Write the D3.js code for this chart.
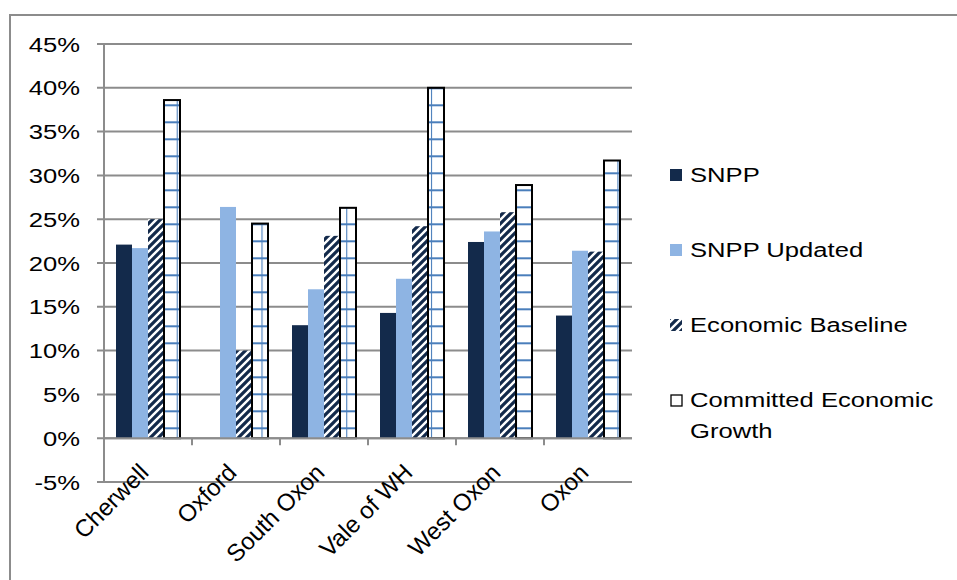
<!DOCTYPE html>
<html>
<head>
<meta charset="utf-8">
<script src="https://cdnjs.cloudflare.com/ajax/libs/d3/7.8.5/d3.min.js"></script>
<style>
  body { margin: 0; background: #fff; }
  svg { display: block; }
  text { font-family: "Liberation Sans", Arial, sans-serif; fill: #000; }
</style>
</head>
<body>
<svg id="chart" width="957" height="580"></svg>
<script>
const categories = ['Cherwell', 'Oxford', 'South Oxon', 'Vale of WH', 'West Oxon', 'Oxon'];
const seriesNames = ['SNPP', 'SNPP Updated', 'Economic Baseline', 'Committed Economic Growth'];
const snpp = [0.221, 0, 0.129, 0.143, 0.224, 0.140];
const snppUpdated = [0.217, 0.264, 0.170, 0.182, 0.236, 0.214];
const econBaseline = [0.250, 0.100, 0.231, 0.242, 0.258, 0.213];
const committed = [0.386, 0.245, 0.263, 0.400, 0.289, 0.317];
const yTicks = [-0.05, 0, 0.05, 0.1, 0.15, 0.2, 0.25, 0.3, 0.35, 0.4, 0.45];

const values = [snpp, snppUpdated, econBaseline, committed];
const stretch = 'scale(1.22,1)';

const svg = d3.select('#chart');
const defs = svg.append('defs');

// dark bars with white "/" stripes
const hatch = defs.append('pattern')
  .attr('id', 'hatch')
  .attr('patternUnits', 'userSpaceOnUse')
  .attr('width', 8).attr('height', 8);
hatch.append('rect').attr('width', 8).attr('height', 8).attr('fill', '#132a4b');
hatch.append('path')
  .attr('d', 'M-2,10 L10,-2 M-6,6 L6,-6 M2,14 L14,2')
  .attr('stroke', '#fff').attr('stroke-width', 2.4);

// white bars with a blue grid
const grid = defs.append('pattern')
  .attr('id', 'grid')
  .attr('patternUnits', 'userSpaceOnUse')
  .attr('x', 176.7).attr('y', 122.3)
  .attr('width', 16.95).attr('height', 17);
grid.append('rect').attr('width', 16.95).attr('height', 17).attr('fill', '#fff');
grid.append('path')
  .attr('d', 'M0,0 H16.95 M0,0 V17 M0,17 H16.95')
  .attr('stroke', '#4a7ebb').attr('stroke-width', 2.2);

const fills = ['#132a4b', '#8eb4e3', 'url(#hatch)', 'url(#grid)'];

// chart frame
svg.append('path')
  .attr('d', 'M10,580 V15 H957')
  .attr('fill', 'none').attr('stroke', '#8c8c8c').attr('stroke-width', 2);

const x0 = d3.scaleBand().domain(categories).range([104, 632]);
const x1 = d3.scaleBand().domain(d3.range(4)).range([0, x0.bandwidth()]).paddingOuter(0.75);
const y = d3.scaleLinear().domain([-0.05, 0.45]).range([482, 44]);
const pct = d => d3.format('.0%')(d).replace('\u2212', '-');

// gridlines
svg.append('g')
  .selectAll('line')
  .data(yTicks)
  .join('line')
  .attr('x1', 97).attr('x2', 632)
  .attr('y1', d => y(d)).attr('y2', d => y(d))
  .attr('stroke', '#8c8c8c').attr('stroke-width', 2);

// y axis
svg.append('line')
  .attr('x1', 104).attr('x2', 104)
  .attr('y1', y(0.45)).attr('y2', y(-0.05))
  .attr('stroke', '#8c8c8c').attr('stroke-width', 2);

svg.append('g')
  .selectAll('text')
  .data(yTicks)
  .join('text')
  .attr('transform', d => `translate(80,${y(d) + 7.5}) ${stretch}`)
  .attr('text-anchor', 'end')
  .style('font-size', '21px')
  .text(pct);

// bars
categories.forEach((c, i) => {
  const g = svg.append('g');
  values.forEach((vals, s) => {
    const v = vals[i];
    if (!v) return;
    g.append('rect')
      .attr('x', x0(c) + x1(s))
      .attr('y', y(v))
      .attr('width', x1.bandwidth())
      .attr('height', y(0) - y(v))
      .attr('fill', fills[s])
      .attr('stroke', s === 3 ? '#000' : 'none')
      .attr('stroke-width', 2);
  });
});

// category axis at 0%
svg.append('line')
  .attr('x1', 104).attr('x2', 632)
  .attr('y1', y(0)).attr('y2', y(0))
  .attr('stroke', '#8c8c8c').attr('stroke-width', 2);
svg.append('g')
  .selectAll('line')
  .data(categories.slice(1))
  .join('line')
  .attr('x1', d => x0(d)).attr('x2', d => x0(d))
  .attr('y1', y(0)).attr('y2', y(0) + 7)
  .attr('stroke', '#8c8c8c').attr('stroke-width', 2);

svg.append('g')
  .selectAll('text')
  .data(categories)
  .join('text')
  .attr('transform', d => `translate(${x0(d) + x0.bandwidth() / 2 + 2},474) rotate(-45)`)
  .attr('text-anchor', 'end')
  .style('font-size', '24px')
  .text(d => d);

// legend
const legendY = [182, 257, 332, 407];
const legend = svg.append('g');
seriesNames.forEach((name, s) => {
  legend.append('rect')
    .attr('x', s === 3 ? 671 : 670)
    .attr('y', legendY[s] - (s === 3 ? 12 : 13))
    .attr('width', s === 3 ? 11 : 12)
    .attr('height', s === 3 ? 11 : 12)
    .attr('fill', s === 3 ? '#fff' : fills[s])
    .attr('stroke', s === 3 ? '#000' : 'none')
    .attr('stroke-width', 1.3);
  if (s === 3) {
    legend.append('text').attr('transform', `translate(690,${legendY[s]}) ${stretch}`)
      .style('font-size', '21px').text('Committed Economic');
    legend.append('text').attr('transform', `translate(690,${legendY[s] + 31}) ${stretch}`)
      .style('font-size', '21px').text('Growth');
  } else {
    legend.append('text').attr('transform', `translate(690,${legendY[s]}) ${stretch}`)
      .style('font-size', '21px').text(name);
  }
});
</script>
</body>
</html>
